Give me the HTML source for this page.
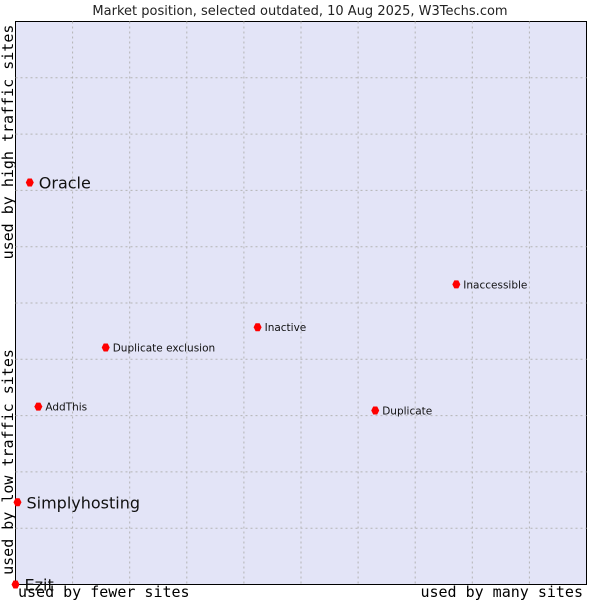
<!DOCTYPE html>
<html><head><meta charset="utf-8"><style>
body{margin:0;background:#fff;width:600px;height:600px;overflow:hidden}
svg text{font-family:"DejaVu Sans","Liberation Sans",sans-serif}
.mono{font-family:"DejaVu Sans Mono","Liberation Mono",monospace}
</style></head><body>
<svg id="chart" width="600" height="600">
<text x="300" y="15" font-size="13" text-anchor="middle" fill="#222">Market position, selected outdated, 10 Aug 2025, W3Techs.com</text>
<rect x="15.5" y="21.5" width="571" height="563" fill="#e3e4f7" stroke="#000"/>
<g id="grid"></g>
<text class="mono" transform="translate(13,142) rotate(-90)" font-size="15" text-anchor="middle">used by high traffic sites</text>
<text class="mono" transform="translate(13,462) rotate(-90)" font-size="15" text-anchor="middle">used by low traffic sites</text>
<text class="mono" x="18" y="597" font-size="15">used by fewer sites</text>
<text class="mono" x="583" y="597" font-size="15" text-anchor="end">used by many sites</text>
<g id="points"></g>
</svg>
<script>
const names=["Oracle","Simplyhosting","Ezit","AddThis","Duplicate exclusion","Inactive","Duplicate","Inaccessible"];
const xVals=[2.5,0.35,0,4.0,15.8,42.4,63.0,77.2];
const yVals=[71.4,14.6,0,31.6,42.1,45.7,30.9,53.3];
const big=[true,true,true,false,false,false,false,false];
const L=15.5,T=21.5,W=571,H=563;
const sx=v=>L+v/100*W, sy=v=>T+H-v/100*H;
const ns="http://www.w3.org/2000/svg";
const grid=document.getElementById('grid');
for(let i=1;i<10;i++){
 const a=document.createElementNS(ns,'line');
 a.setAttribute('x1',sx(i*10));a.setAttribute('x2',sx(i*10));a.setAttribute('y1',T);a.setAttribute('y2',T+H);
 a.setAttribute('stroke','#b4b4b4');a.setAttribute('stroke-dasharray','2,3');
 
 
 grid.appendChild(a);
 const b=document.createElementNS(ns,'line');
 b.setAttribute('y1',sy(i*10));b.setAttribute('y2',sy(i*10));b.setAttribute('x1',L);b.setAttribute('x2',L+W);
 b.setAttribute('stroke','#b4b4b4');b.setAttribute('stroke-dasharray','2,3');
 
 
 grid.appendChild(b);
}
const pts=document.getElementById('points');
names.forEach((n,i)=>{
 const x=sx(xVals[i]),y=sy(yVals[i]);
 const c=document.createElementNS(ns,'path');
 c.setAttribute('d',`M${x-4},${y} L${x-2},${y-4} L${x+2},${y-4} L${x+4},${y} L${x+2},${y+4} L${x-2},${y+4} Z`);
 c.setAttribute('fill','#f00');
 
 
 pts.appendChild(c);
 const t=document.createElementNS(ns,'text');
 t.setAttribute('x',x+(big[i]?9:7));t.setAttribute('y',y+(big[i]?6:4));
 t.setAttribute('font-size',big[i]?'16':'10.5');t.setAttribute('fill','#111');
 t.textContent=n;
 
 
 pts.appendChild(t);
});
</script>
</body></html>
